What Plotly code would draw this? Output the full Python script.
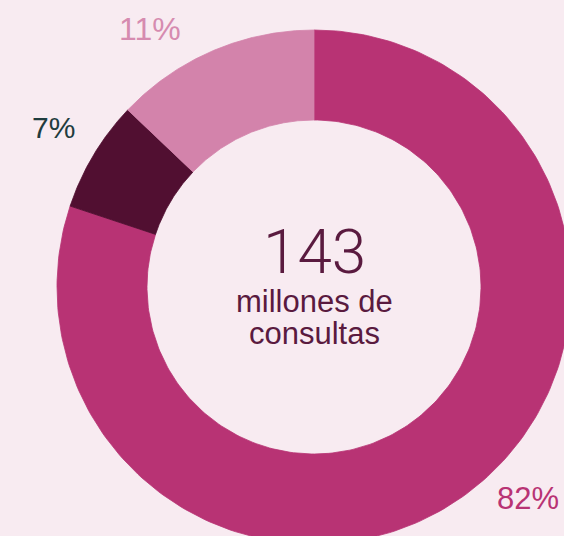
import numpy as np
import plotly.graph_objects as go

# ---- data ----
segments = ["Segmento 1", "Segmento 2", "Segmento 3"]
shares = [80.1, 7.0, 12.9]          # slice sizes as drawn
pct_labels = ["82%", "7%", "11%"]   # printed labels
slice_colors = ["#b83374", "#510f31", "#d383ab"]
label_colors = ["#b83374", "#1f3c3e", "#d68bb0"]
center_number = "143"
center_lines = ["millones de", "consultas"]

# ---- geometry (pixel-like units; centre of donut at 0,0) ----
R_OUT, R_IN = 257, 167
W, H = 564, 536
CX, CY = 314, 287  # centre position in the window

fig = go.Figure()
cum = np.concatenate([[0], np.cumsum(shares)]) / np.sum(shares) * 360.0
for i, name in enumerate(segments):
    a0, a1 = cum[i], cum[i + 1]
    t = np.radians(np.linspace(a0, a1, 240))
    # clockwise from 12 o'clock
    xo, yo = R_OUT * np.sin(t), R_OUT * np.cos(t)
    xi, yi = R_IN * np.sin(t[::-1]), R_IN * np.cos(t[::-1])
    xs = np.concatenate([xo, xi, xo[:1]])
    ys = np.concatenate([yo, yi, yo[:1]])
    fig.add_trace(go.Scatter(
        x=xs, y=ys, mode="lines", fill="toself",
        fillcolor=slice_colors[i],
        line=dict(color=slice_colors[i], width=0.8),
        name=name, hoverinfo="name", showlegend=False))

# percentage labels
label_pos = [(214, -211), (-261, 160), (-164, 258)]
label_sizes = [31, 30, 32]
for i, txt in enumerate(pct_labels):
    fig.add_annotation(x=label_pos[i][0], y=label_pos[i][1], text=txt,
                       showarrow=False, xanchor="center", yanchor="middle",
                       font=dict(family="Liberation Sans, Arial", size=label_sizes[i],
                                 color=label_colors[i]))

fig.add_annotation(x=0, y=36, text=center_number, showarrow=False,
                   xanchor="center", yanchor="middle",
                   font=dict(family="Roboto", weight=300, size=62, color="#5a1a3f"))
for k, (txt, yy) in enumerate(zip(center_lines, [-14, -46])):
    fig.add_annotation(x=0, y=yy, text=txt, showarrow=False,
                       xanchor="center", yanchor="middle",
                       font=dict(family="Liberation Sans, Arial", size=31, color="#5a1a3f"))

bg = "#f8ebf1"
fig.update_layout(
    width=W, height=H, margin=dict(l=0, r=0, t=0, b=0),
    paper_bgcolor=bg, plot_bgcolor=bg,
    xaxis=dict(range=[-CX, W - CX], visible=False, fixedrange=True),
    yaxis=dict(range=[-(H - CY), CY], visible=False, fixedrange=True),
    showlegend=False,
)
fig.write_html(
    "out.html",
    config={"displayModeBar": False},
    post_script="document.body.style.margin='0';document.body.style.overflow='hidden';"
                "document.body.style.background='" + bg + "';",
)
